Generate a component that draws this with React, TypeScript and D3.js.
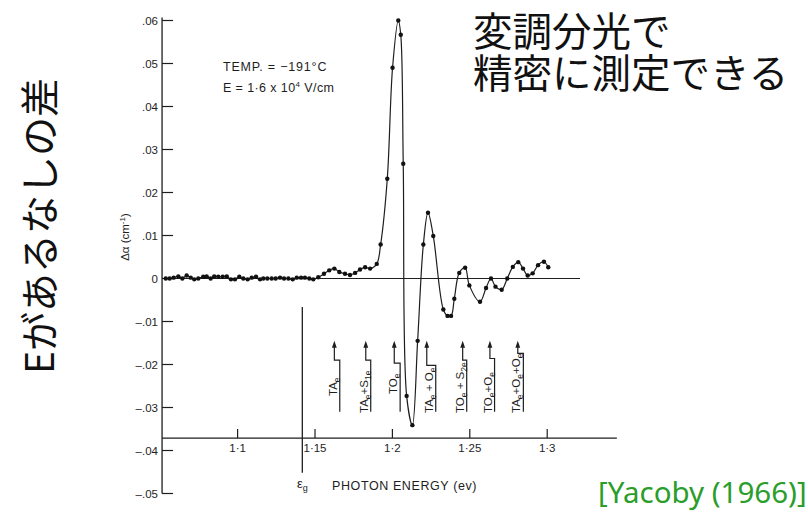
import React from "react";
import * as d3 from "d3";

// ---- data ----
const energy = [
  1.0536, 1.0561, 1.0587, 1.0617, 1.0643, 1.0671, 1.0697, 1.072, 1.0746, 1.0778,
  1.08, 1.0826, 1.0849, 1.0875, 1.0904, 1.093, 1.0957, 1.0983, 1.1011, 1.1037,
  1.1065, 1.1091, 1.1119, 1.1145, 1.1166, 1.1192, 1.122, 1.1246, 1.1274, 1.13,
  1.1328, 1.1356, 1.1382, 1.141, 1.1435, 1.1463, 1.1489,
  1.1521, 1.1558, 1.1592, 1.1625, 1.1657, 1.1694, 1.1726, 1.1759, 1.1791, 1.1824,
  1.1856, 1.1899, 1.1924, 1.1967, 1.2001, 1.2038, 1.2054, 1.207, 1.2092, 1.2129,
  1.2163, 1.22, 1.223, 1.2264, 1.2329, 1.2356, 1.2379, 1.24, 1.2432, 1.247,
  1.2497, 1.2566, 1.2605, 1.2637, 1.2666, 1.2706, 1.2742, 1.2778, 1.2813, 1.2844,
  1.2874, 1.2906, 1.2941, 1.2979, 1.3007,
];
const deltaAlpha = [
  0.0, 0.0, 0.0002, 0.0005, 0.0, 0.0007, 0.0002, -0.0002, 0.0, 0.0004,
  0.0005, 0.0, 0.0005, 0.0004, 0.0004, 0.0005, -0.0002, -0.0002, 0.0004, 0.0,
  -0.0002, 0.0002, 0.0004, -0.0002, 0.0, 0.0, 0.0, 0.0, 0.0002, 0.0,
  0.0, -0.0002, 0.0002, 0.0002, 0.0002, 0.0, -0.0002,
  0.0003, 0.0011, 0.0019, 0.0023, 0.0015, 0.0011, 0.0008, 0.0013, 0.0021, 0.0026,
  0.0023, 0.0034, 0.0079, 0.0232, 0.049, 0.06, 0.0567, 0.0267, -0.0273, -0.0341,
  -0.0145, 0.0079, 0.0153, 0.0099, -0.0072, -0.0087, -0.0087, -0.0047, 0.0013, 0.0025,
  -0.0016, -0.0054, -0.0022, 0.0, -0.0019, -0.0026, 0.0, 0.0027, 0.0038, 0.0023,
  0.0007, 0.0012, 0.0031, 0.0039, 0.0026,
];

const yTicks = [0.06, 0.05, 0.04, 0.03, 0.02, 0.01, 0, -0.01, -0.02, -0.03, -0.04, -0.05];
const yTickLabels = [".06", ".05", ".04", ".03", ".02", ".01", "0", "–.01", "–.02", "–.03", "–.04", "–.05"];
const xTicks = [1.1, 1.15, 1.2, 1.25, 1.3];
const xTickLabels = ["1·1", "1·15", "1·2", "1·25", "1·3"];

// phonon-assisted thresholds (arrow energy, lower-segment energy, step level in Δα)
const arrowEnergy = [1.1625, 1.1828, 1.2012, 1.2222, 1.2454, 1.263, 1.281];
const stemEnergy = [1.166, 1.186, 1.205, 1.228, 1.248, 1.266, 1.2846];
const stepLevel = [-0.019, -0.019, -0.0197, -0.0202, -0.019, -0.0186, -0.0174];
const transitionLabels: [string, boolean][][] = [
  [["TA", false], ["e", true]],
  [["TA", false], ["e", true], ["+S", false], ["1e", true]],
  [["TO", false], ["e", true]],
  [["TA", false], ["e", true], [" + O", false], ["e", true]],
  [["TO", false], ["e", true], [" + S", false], ["2e", true]],
  [["TO", false], ["e", true], ["+O", false], ["e", true]],
  [["TA", false], ["e", true], ["+O", false], ["e", true], ["+O", false], ["e", true]],
];

const gapEnergy = 1.1418;

const captionLines = ["変調分光で", "精密に測定できる"];

// ---- layout ----
const W = 808;
const H = 515;
const x = d3.scaleLinear().domain([1.1, 1.3]).range([237.6, 547.2]);
const y = d3.scaleLinear().domain([-0.05, 0.06]).range([493.5, 20.5]);
const axisLeftE = 1.0512;
const axisRightE = 1.345;
const zeroLineEndE = 1.3212;
const xAxisLevel = -0.0371;
const arrowTopLevel = -0.0145;
const arrowBottomLevel = -0.031;
const labelBottomY = [396, 413, 394, 413, 413, 413, 413];

const ink = "#1e1e1e";
const tickFont = "'Liberation Sans', Arial, sans-serif";

export default function App() {
  const pts = energy.map((e, i) => [x(e), y(deltaAlpha[i])] as [number, number]);
  const line = d3.line().curve(d3.curveCatmullRom.alpha(0.5))(pts) || "";
  const axX = x(axisLeftE);
  const axY = y(xAxisLevel);

  return (
    <svg
      width={W}
      height={H}
      viewBox={`0 0 ${W} ${H}`}
      style={{ position: "absolute", left: 0, top: 0, background: "#fff" }}
    >
      <rect width={W} height={H} fill="#fff" />

      {/* Y axis */}
      <line x1={axX} x2={axX} y1={y(0.06) - 3} y2={y(-0.05)} stroke={ink} strokeWidth={1.3} />
      {yTicks.map((t, i) => (
        <g key={"yt" + i}>
          <line x1={axX} x2={axX + 11} y1={y(t)} y2={y(t)} stroke={ink} strokeWidth={1.2} />
          <text
            x={158}
            y={y(t)}
            dy="0.35em"
            textAnchor="end"
            fontFamily={tickFont}
            fontSize={11.5}
            fill={ink}
          >
            {yTickLabels[i]}
          </text>
        </g>
      ))}
      <text
        transform={`translate(129,237) rotate(-90)`}
        textAnchor="middle"
        fontFamily={tickFont}
        fontSize={11.5}
        fill={ink}
      >
        Δα (cm<tspan dy={-4} fontSize={8}>-1</tspan>
        <tspan dy={4}>)</tspan>
      </text>

      {/* X axis */}
      <line x1={axX} x2={x(axisRightE)} y1={axY} y2={axY} stroke={ink} strokeWidth={1.2} />
      {xTicks.map((t, i) => (
        <g key={"xt" + i}>
          <line x1={x(t)} x2={x(t)} y1={axY} y2={axY - 9} stroke={ink} strokeWidth={1.2} />
          <text
            x={x(t)}
            y={452}
            textAnchor="middle"
            fontFamily={tickFont}
            fontSize={11.5}
            fill={ink}
          >
            {xTickLabels[i]}
          </text>
        </g>
      ))}
      <text x={332} y={490} fontFamily={tickFont} fontSize={12.5} fill={ink} letterSpacing={0.6}>
        PHOTON  ENERGY (ev)
      </text>

      {/* zero line */}
      <line x1={axX} x2={x(zeroLineEndE)} y1={y(0)} y2={y(0)} stroke={ink} strokeWidth={1.1} />

      {/* band gap marker */}
      <line x1={x(gapEnergy)} x2={x(gapEnergy)} y1={y(-0.0066)} y2={y(-0.0452)} stroke={ink} strokeWidth={1.3} />
      <text x={x(gapEnergy)} y={488} textAnchor="middle" fontFamily={tickFont} fontSize={13} fill={ink}>
        ε<tspan dy={3} fontSize={9}>g</tspan>
      </text>

      {/* annotations */}
      <text x={223} y={71} fontFamily={tickFont} fontSize={12.5} letterSpacing={0.8} fill={ink}>
        TEMP. = −191°C
      </text>
      <text x={223} y={92} fontFamily={tickFont} fontSize={12.5} letterSpacing={0.4} fill={ink}>
        E = 1·6 x 10<tspan dy={-5} fontSize={8}>4</tspan>
        <tspan dy={5}>{"   "}V/cm</tspan>
      </text>

      {/* transition arrows */}
      {arrowEnergy.map((e, i) => {
        const ax = x(e);
        const sx = x(stemEnergy[i]);
        const top = y(arrowTopLevel);
        const step = y(stepLevel[i]);
        const bot = y(arrowBottomLevel);
        return (
          <g key={"ar" + i}>
            <path
              d={`M${sx},${bot} L${sx},${step} L${ax},${step} L${ax},${top + 4}`}
              fill="none"
              stroke={ink}
              strokeWidth={1.2}
            />
            <path d={`M${ax},${top} L${ax - 2.4},${top + 7} L${ax + 2.4},${top + 7} Z`} fill={ink} />
            <text
              transform={`translate(${sx - 3},${labelBottomY[i]}) rotate(-90)`}
              fontFamily={tickFont}
              fontSize={11.5}
              fill={ink}
            >
              {transitionLabels[i].map((p, k) => {
                const prevSub = k > 0 && transitionLabels[i][k - 1][1];
                const dy = p[1] ? (prevSub ? 0 : 3) : prevSub ? -3 : 0;
                return (
                  <tspan key={k} dy={dy} fontSize={p[1] ? 8.5 : 11.5}>
                    {p[0]}
                  </tspan>
                );
              })}
            </text>
          </g>
        );
      })}

      {/* data */}
      <path d={line} fill="none" stroke={ink} strokeWidth={1.2} />
      {pts.map((p, i) => (
        <circle key={"p" + i} cx={p[0]} cy={p[1]} r={2.2} fill="#111" />
      ))}

      {/* Japanese captions */}
      <text fontFamily="'Noto Sans CJK JP'" fontSize={39.5} fill="#111">
        {captionLines.map((s, i) => (
          <tspan key={i} x={473} y={46 + i * 42}>
            {s}
          </tspan>
        ))}
      </text>
      <text
        transform={`translate(54,226) rotate(-90)`}
        textAnchor="middle"
        fontFamily="'Noto Sans CJK JP'"
        fontSize={39}
        fill="#111"
      >
        Eがあるなしの差
      </text>

      {/* citation */}
      <text x={598} y={503} fontFamily="'Noto Sans', 'Open Sans', sans-serif" fontSize={29.5} fill="#2a9d2a">
        [Yacoby (1966)]
      </text>
    </svg>
  );
}
